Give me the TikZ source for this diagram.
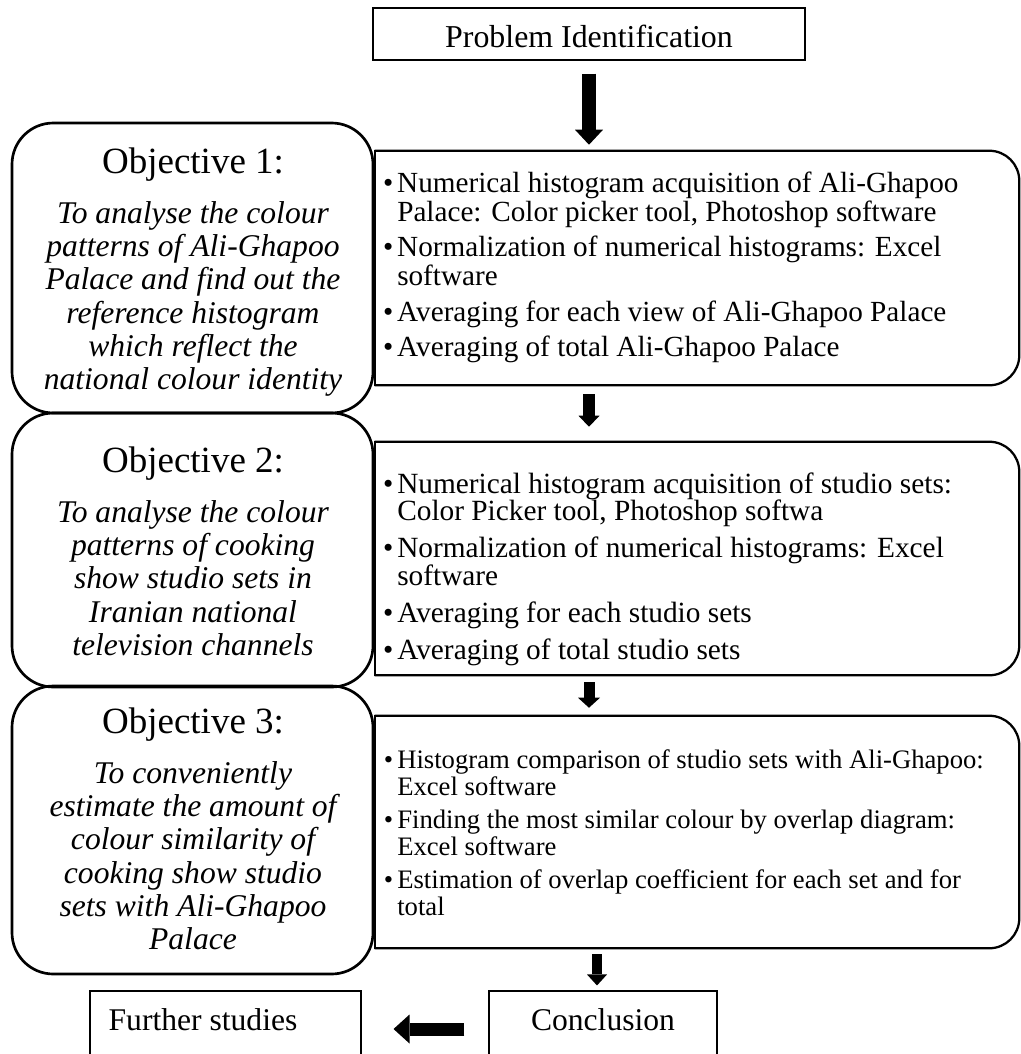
\documentclass[tikz,border=0pt]{standalone}
\usepackage{fontspec}
\setmainfont{Liberation Serif}
\usetikzlibrary{arrows.meta,calc}
\newcommand{\rbul}{\llap{\textbullet\hspace{3pt}}}
\tikzset{
  objbox/.style={draw, line width=2pt, rounded corners=31pt, minimum width=270.75pt, inner sep=0pt},
  plainbox/.style={draw, line width=0.8pt, inner sep=0pt},
  ghost/.style={inner sep=0pt, minimum width=483pt},
  rline/.style={line width=1.7pt},
  objtitle/.style={anchor=base, inner sep=0pt, font=\fontsize{27.75}{30}\selectfont},
  objbody/.style={anchor=base, inner sep=0pt, font=\fontsize{23.7}{25}\selectfont\itshape},
  rtext/.style={anchor=base west, inner sep=0pt},
  btext/.style={anchor=base, inner sep=0pt, font=\fontsize{23.7}{28}\selectfont},
  barrow/.style n args={3}{line width=#1, -{Triangle[width=#2,length=#3,line width=0pt]}}
}
\begin{document}
\begin{tikzpicture}[x=0.75pt,y=-0.75pt]
\useasboundingbox (0,0) rectangle (1021,1054);
\clip (0,0) rectangle (1021,1054);

% Problem identification
\node[plainbox, minimum width=324pt, minimum height=39pt] (pi) at (589,34) {};
\node[btext, font=\fontsize{23.9}{28}\selectfont] (pitxt) at (589,47) {Problem Identification};

% Objective boxes
\node[objbox, minimum height=217.5pt] (o1) at (192.5,268) {};
\node[objbox, minimum height=205.5pt] (o2) at (192.5,550) {};
\node[objbox, minimum height=216pt] (o3) at (192.5,830) {};

\node[objtitle] (o1t) at (193,173) {Objective 1:};
\node[objbody] (o1b) at (193,223) {\begin{tabular}[t]{@{}c@{}}To analyse the colour\\ patterns of Ali-Ghapoo\\ Palace and find out the\\ reference histogram\\ which reflect the\\ national colour identity\end{tabular}};

\node[objtitle] (o2t) at (193,472) {Objective 2:};
\node[objbody] (o2b) at (193,522) {\begin{tabular}[t]{@{}c@{}}To analyse the colour\\ patterns of cooking\\ show studio sets in\\ Iranian national\\ television channels\end{tabular}};

\node[objtitle] (o3t) at (193,733) {Objective 3:};
\node[objbody] (o3b) at (193,783) {\begin{tabular}[t]{@{}c@{}}To conveniently\\ estimate the amount of\\ colour similarity of\\ cooking show studio\\ sets with Ali-Ghapoo\\ Palace\end{tabular}};

% Right boxes
\node[ghost, minimum height=175.5pt] (r1) at (697,268) {};
\node[ghost, minimum height=174.75pt] (r2) at (697,558.5) {};
\node[ghost, minimum height=174pt] (r3) at (697,832) {};
\foreach \r in {r1,r2,r3}{
  \draw[rline, rounded corners=22.5pt] (\r.north west) -- (\r.north east) -- (\r.south east) -- (\r.south west);
  \draw[rline, line cap=rect] (\r.north west) -- (\r.south west);
}

\node[rtext, font=\fontsize{21.9}{21.75}\selectfont] (r1t) at (397,192) {\begin{tabular}[t]{@{}l@{}}\rbul Numerical histogram acquisition of Ali-Ghapoo\\ Palace: Color picker tool, Photoshop software\\[4.5pt] \rbul Normalization of numerical histograms: Excel\\ software\\[4.5pt] \rbul Averaging for each view of Ali-Ghapoo Palace\\[4.5pt] \rbul Averaging of total Ali-Ghapoo Palace\end{tabular}};

\node[rtext, font=\fontsize{22}{18}\selectfont] (r2t) at (397,493) {\begin{tabular}[t]{@{}l@{}}\rbul Numerical histogram acquisition of studio sets:\\ Color Picker tool, Photoshop softwa\\[6.75pt] \rbul Normalization of numerical histograms: Excel\\ software\\[6.75pt] \rbul Averaging for each studio sets\\[6.75pt] \rbul Averaging of total studio sets\end{tabular}};

\node[rtext, font=\fontsize{20}{20.25}\selectfont] (r3t) at (397,768) {\begin{tabular}[t]{@{}l@{}}\rbul Histogram comparison of studio sets with Ali-Ghapoo:\\ Excel software\\[4.5pt] \rbul Finding the most similar colour by overlap diagram:\\ Excel software\\[4.5pt] \rbul Estimation of overlap coefficient for each set and for\\ total\end{tabular}};

% Bottom boxes
\node[plainbox, minimum width=171pt, minimum height=57pt] (concl) at (603,1029) {};
\node[btext] (concltxt) at (603,1030) {Conclusion};
\node[plainbox, minimum width=203.25pt, minimum height=57pt] (further) at (225.5,1029) {};
\node[btext] (furthertxt) at (203,1030) {Further studies};

% Arrows
\draw[barrow={10.5pt}{21pt}{11.25pt}, shorten <=9.75pt, shorten >=4.5pt] (pi.south) -- (pi.south |- r1.north);
\draw[barrow={9pt}{15.75pt}{8.25pt}, shorten <=6.75pt, shorten >=11.25pt] (pi.south |- r1.south) -- (pi.south |- r2.north);
\draw[barrow={8.25pt}{16.5pt}{7.5pt}, shorten <=5.25pt, shorten >=6pt] (pi.south |- r2.south) -- (pi.south |- r3.north);
\coordinate (c4) at ([xshift=-4.5pt]concl.north);
\draw[barrow={7pt}{15pt}{8.25pt}, shorten <=4.5pt, shorten >=3.75pt] (c4 |- r3.south) -- (c4);
\draw[barrow={9.75pt}{21.75pt}{12pt}, shorten <=18pt, shorten >=24pt] (concl.west) -- (further.east);
\end{tikzpicture}
\end{document}
